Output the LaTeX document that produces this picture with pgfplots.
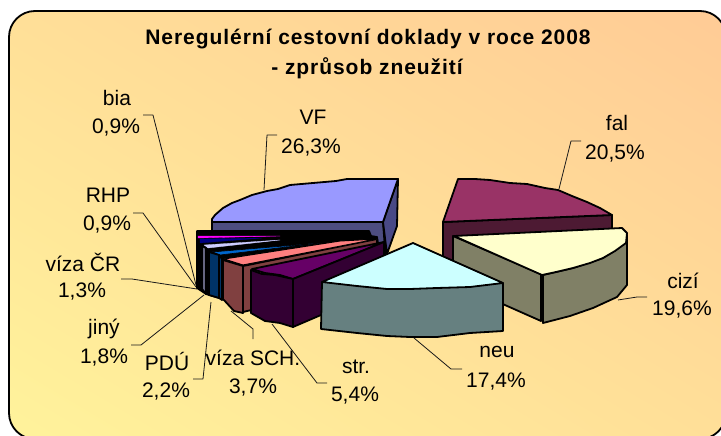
\documentclass[border=0pt]{standalone}
\usepackage{pgfplots}
\pgfplotsset{compat=1.18}
\usetikzlibrary{shadings}
\usepackage{fontspec}
\setmainfont{Liberation Sans}
\newfontfamily\titlefont[LetterSpace=4.5,BoldFont={Liberation Sans Bold}]{Liberation Sans}
\definecolor{vfT}{HTML}{9999FF}\definecolor{vfW}{HTML}{4D4D80}
\definecolor{faT}{HTML}{993366}\definecolor{faW}{HTML}{4D1A33}
\definecolor{ciT}{HTML}{FFFFCC}\definecolor{ciW}{HTML}{808066}
\definecolor{neT}{HTML}{CCFFFF}\definecolor{neW}{HTML}{668080}
\definecolor{stT}{HTML}{660066}\definecolor{stW}{HTML}{330033}
\definecolor{saT}{HTML}{FF8080}\definecolor{saW}{HTML}{804040}
\definecolor{blT}{HTML}{0066CC}\definecolor{blW}{HTML}{003366}
\definecolor{liT}{HTML}{CCCCFF}\definecolor{liW}{HTML}{666680}
\definecolor{naT}{HTML}{000080}\definecolor{maT}{HTML}{FF00FF}
\definecolor{bgA}{HTML}{FFF39B}\definecolor{bgB}{HTML}{FFCB96}
\definecolor{bgC}{HTML}{FFDF98}
\begin{document}
\begin{tikzpicture}
\begin{axis}[hide axis,scale only axis,width=721pt,height=436pt,
  xmin=0,xmax=721,ymin=0,ymax=436,y dir=reverse,clip=true,
  every axis plot/.append style={line width=1.8pt,line join=round,draw=black},
  ]
\shade[rounded corners=26pt,lower left=bgA,upper right=bgB,upper left=bgC,lower right=bgC]
  (axis cs:9,11) rectangle (axis cs:726,439);
\draw[rounded corners=26pt,line width=1.8pt,black]
  (axis cs:9,11) rectangle (axis cs:726,439);
% leaders
\addplot[line width=.8pt,draw=black!90] coordinates {(277,135)(267,135)(264,190)};
\addplot[line width=.8pt,draw=black!90] coordinates {(581,141)(571,141)(559,189)};
\addplot[line width=.8pt,draw=black!90] coordinates {(647,297)(637,297)(618,300)};
\addplot[line width=.8pt,draw=black!90] coordinates {(462,369)(451,369)(414,338)};
\addplot[line width=.8pt,draw=black!90] coordinates {(327,383)(317,383)(272,324)};
\addplot[line width=.8pt,draw=black!90] coordinates {(253,339)(253,329)(231,311)};
\addplot[line width=.8pt,draw=black!90] coordinates {(193,379)(203,379)(211,302)};
\addplot[line width=.8pt,draw=black!90] coordinates {(131,345)(141,345)(204,295)};
\addplot[line width=.8pt,draw=black!90] coordinates {(121,279)(132,279)(197,289)};
\addplot[line width=.8pt,draw=black!90] coordinates {(133,213)(143,213)(196,287)};
\addplot[line width=.8pt,draw=black!90] coordinates {(143,115)(153,115)(196,285)};
% VF
\addplot[fill=vfW] coordinates {(212,222)(383,222)(386,262)(212,262)} --cycle;
\addplot[fill=vfW!95!blue] coordinates {(398,179)(383,222)(387,254)(397,226)} --cycle;
\addplot[fill=vfT] coordinates {(383,222)(398,179)(347,179)(336,181)(313,183)(290,185)(278,189)(267,191)(252,195)(240,200)(232,203)(223,208)(215,215)(212,219)(212,222)} --cycle;
% fal
\addplot[fill=faW] coordinates {(443,222)(612,215)(612,240)(443,290)} --cycle;
\addplot[fill=faT] coordinates {(443,222)(458,179)(475,179)(490,180)(510,183)(527,184)(545,188)(558,190)(572,196)(587,202)(600,208)(612,215)} --cycle;
% cizi
\addplot[fill=ciW] coordinates {(453,236)(541,274)(541,321)(453,282)} --cycle;
\addplot[fill=ciW] coordinates {(543,275)(573,268)(603,258)(625,243)(627,235)(627,285)(617,297)(593,308)(570,316)(543,323)} --cycle;
\addplot[fill=ciT] coordinates {(454,236)(622,228)(627,233)(626,243)(615,251)(603,258)(590,263)(573,268)(556,272)(542,275)} --cycle;
% small slices
\addplot[fill=black] coordinates {(197,231)(369,231)(371,236)(377,237)(378,243)(384,243)(300,300)(226,300)(206,294)(197,288)} --cycle;
\addplot[fill=maT,line width=.3pt,draw=maT] coordinates {(198,236)(198,238)(280,236)} --cycle;
\addplot[fill=naT,line width=.3pt,draw=naT] coordinates {(200,239)(200,243)(262,238)} --cycle;
\addplot[fill=liT,line width=.3pt,draw=liT] coordinates {(204,245)(208,248)(280,240)} --cycle;
\addplot[fill=liW] coordinates {(202,246)(206,248)(206,294)(202,289)} --cycle;
\addplot[fill=blT,line width=.6pt] coordinates {(212,252)(220,255)(320,243)} --cycle;
\addplot[fill=blW] coordinates {(209,252)(219,255)(219,298)(209,295)} --cycle;
\addplot[fill=blW] coordinates {(219,255)(222,259)(222,300)(219,298)} --cycle;
\addplot[fill=saW] coordinates {(243,266)(377,239)(378,280)(243,312)} --cycle;
\addplot[fill=saT,line width=1pt] coordinates {(224,259)(243,265)(377,239)(340,241)} --cycle;
\addplot[fill=saW] coordinates {(223,260)(243,266)(243,313)(234,311)(223,299)} --cycle;
% str
\addplot[fill=stT] coordinates {(252,269)(265,273)(280,275)(293,279)(384,242)} --cycle;
\addplot[fill=stW] coordinates {(293,279)(384,242)(384,288)(293,327)} --cycle;
\addplot[fill=stW] coordinates {(251,270)(262,274)(275,275)(293,279)(293,327)(280,323)(265,321)(251,313)} --cycle;
% neu
\addplot[fill=neW] coordinates {(322,282)(503,283)(503,331)(470,333)(437,337)(410,337)(387,336)(357,333)(321,329)} --cycle;
\addplot[fill=neT] coordinates {(413,243)(503,283)(470,287)(437,288)(410,289)(387,289)(357,286)(322,282)} --cycle;
% labels
\begin{scope}[every node/.style={font=\fontsize{21}{24}\selectfont,text=black,inner sep=0pt,anchor=center}]
\node at (axis cs:117,98) {bia}; \node at (axis cs:116,128) {0,9\%};
\node at (axis cs:108,195) {RHP}; \node at (axis cs:107,225) {0,9\%};
\node at (axis cs:83,262) {víza ČR}; \node at (axis cs:82,292) {1,3\%};
\node at (axis cs:104,329) {jiný}; \node at (axis cs:104,358) {1,8\%};
\node at (axis cs:167,361) {PDÚ}; \node at (axis cs:166,392) {2,2\%};
\node at (axis cs:253,358) {víza SCH.}; \node at (axis cs:253,388) {3,7\%};
\node at (axis cs:356,367) {str.}; \node at (axis cs:355,396) {5,4\%};
\node at (axis cs:497,352) {neu}; \node at (axis cs:496,382) {17,4\%};
\node at (axis cs:683,281) {cizí}; \node at (axis cs:682,310) {19,6\%};
\node at (axis cs:617,123) {fal}; \node at (axis cs:615,154) {20,5\%};
\node at (axis cs:313,117) {VF}; \node at (axis cs:311,148) {26,3\%};
\node[font=\fontsize{21}{24}\selectfont\titlefont\bfseries] at (axis cs:368,39) {Neregulérní cestovní doklady v roce 2008};
\node[font=\fontsize{21}{24}\selectfont\titlefont\bfseries] at (axis cs:367,68) {- zprůsob zneužití};
\end{scope}
\end{axis}
\pgfresetboundingbox
\path[use as bounding box] (0,0) rectangle (721pt,436pt);
\end{tikzpicture}
\end{document}
